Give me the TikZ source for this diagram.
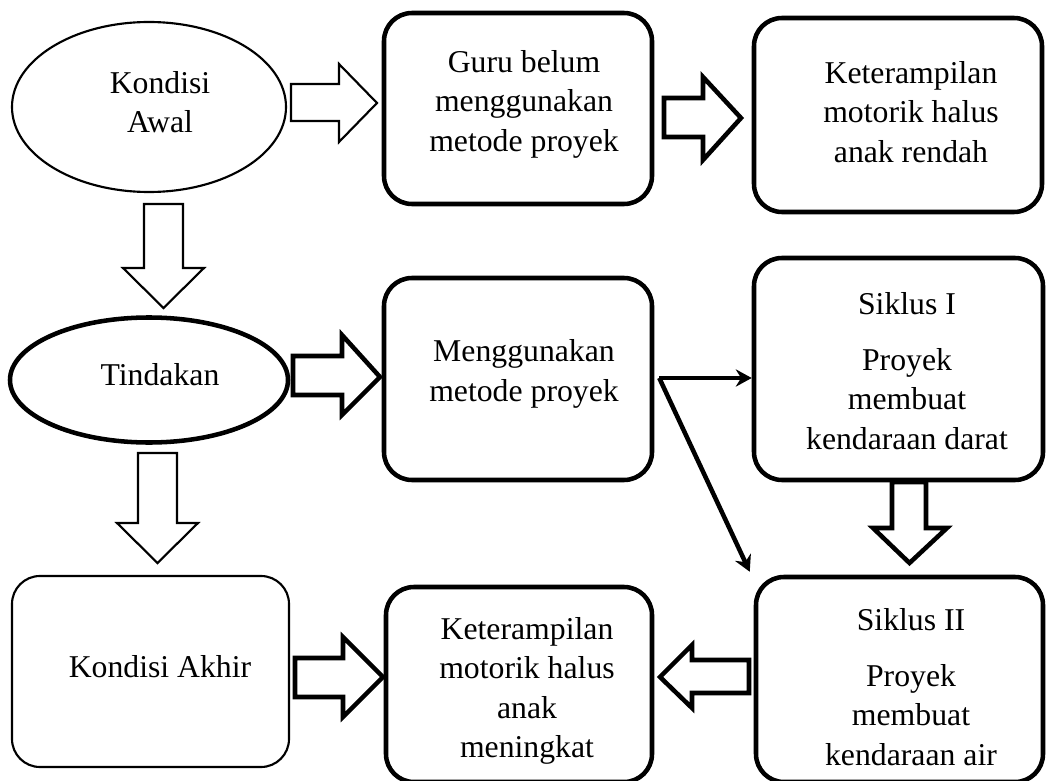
\documentclass[tikz,border=0pt]{standalone}
\usepackage{fontspec}
\setmainfont{Liberation Serif}
\usetikzlibrary{shapes.geometric,arrows.meta,calc}
\newdimen\pxu
\pxu=0.75pt
\begin{document}
\begin{tikzpicture}[x=0.75pt,y=-0.75pt,
  thinline/.style={line width=1.6pt},
  thickline/.style={line width=3.4pt},
  boxthick/.style={draw,thickline,rounded corners=28\pxu,inner sep=0pt},
  boxthin/.style={draw,thinline,rounded corners=28\pxu,inner sep=0pt},
  ell/.style={draw,ellipse,inner sep=0pt},
  txt/.style={align=center,font=\fontsize{23.8pt}{29.6pt}\selectfont,inner sep=0pt},
  blkthin/.style={draw,thinline,line join=miter,fill=white},
  blkthick/.style={draw,thickline,line join=miter,fill=white},
  conn/.style={line width=3.4pt,-{Stealth[length=12pt,width=13pt,inset=4pt]}}]
\useasboundingbox (0,0) rectangle (1046,781);

% shapes
\node[ell,thinline,minimum width=274\pxu,minimum height=170\pxu] (e1) at (149,107) {};
\node[ell,thickline,minimum width=278\pxu,minimum height=125\pxu] (e2) at (149,380) {};
\node[boxthick,minimum width=268\pxu,minimum height=191\pxu] (b1) at (518,108.5) {};
\node[boxthick,minimum width=288\pxu,minimum height=194\pxu] (b2) at (898,115) {};
\node[boxthick,minimum width=268\pxu,minimum height=202\pxu] (b3) at (518,379) {};
\node[boxthick,minimum width=289\pxu,minimum height=222\pxu] (b4) at (898.5,369) {};
\node[boxthin,minimum width=277\pxu,minimum height=191\pxu] (b5) at (150.5,671.5) {};
\node[boxthick,minimum width=266\pxu,minimum height=195\pxu] (b6) at (519,684.5) {};
\node[boxthick,minimum width=287\pxu,minimum height=205\pxu] (b7) at (899.5,679.5) {};

% texts
\node[txt] (t1) at (160,102) {Kondisi\\Awal};
\node[txt] (t2) at (524,104) {Guru belum\\menggunakan\\metode proyek};
\node[txt] (t3) at (911,112) {Keterampilan\\motorik halus\\anak rendah};
\node[txt] (t4) at (160,375) {Tindakan};
\node[txt] (t5) at (524,374) {Menggunakan\\metode proyek};
\node[txt] (t6) at (907,371) {Siklus I\\[12.4pt]Proyek\\membuat\\kendaraan darat};
\node[txt] (t7) at (160,667) {Kondisi Akhir};
\node[txt] (t8) at (527,691) {Keterampilan\\motorik halus\\anak\\meningkat};
\node[txt] (t9) at (911,687) {Siklus II\\[12.4pt]Proyek\\membuat\\kendaraan air};

% block arrows
\draw[blkthin] (291,84) -- (339,84) -- (339,64) -- (377,103) -- (339,142) -- (339,121) -- (291,121) -- cycle;
\draw[blkthick] (664,98) -- (703,98) -- (703,77) -- (741,118) -- (703,160) -- (703,137) -- (664,137) -- cycle;
\draw[blkthin] (144,204) -- (183,204) -- (183,268) -- (204,268) -- (163.5,308) -- (123,268) -- (144,268) -- cycle;
\draw[blkthick] (293,356) -- (342,356) -- (342,335) -- (380,377) -- (342,415) -- (342,395) -- (293,395) -- cycle;
\draw[blkthin] (138,453) -- (177,453) -- (177,523) -- (198,523) -- (157.5,563) -- (117,523) -- (138,523) -- cycle;
\draw[blkthick] (295,658) -- (343,658) -- (343,637) -- (383,677) -- (343,717) -- (343,697) -- (295,697) -- cycle;
\draw[blkthick] (892,482) -- (926,482) -- (926,528) -- (947,528) -- (909.5,563) -- (873,528) -- (892,528) -- cycle;
\draw[blkthick] (749,660) -- (692,660) -- (692,645) -- (660,677) -- (692,708) -- (692,693) -- (749,693) -- cycle;

% thin connectors
\coordinate (split) at ($(b3.east)+(5,-1)$);
\draw[conn] (split) -- (split -| b4.west);
\draw[conn] (split) -- ($(b7.north west)+(-4,-3)$);
\end{tikzpicture}
\end{document}
